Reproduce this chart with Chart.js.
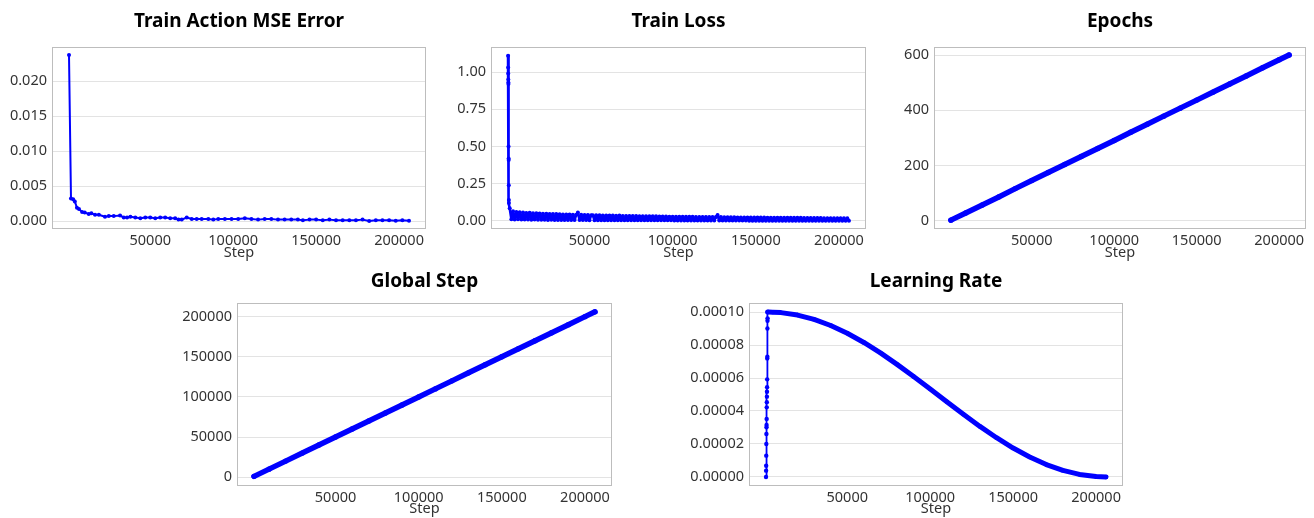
<!DOCTYPE html>
<html><head><meta charset="utf-8">
<script src="https://cdn.jsdelivr.net/npm/chart.js@4"></script>
<style>
html,body{margin:0;padding:0;background:#fff;}
#wrap{position:relative;width:1314px;height:518px;overflow:hidden;background:#fff;}
canvas{position:absolute;}
</style></head><body>
<div id="wrap">
<canvas id="c1" width="440" height="262" style="left:0px;top:0px"></canvas>
<canvas id="c2" width="440" height="262" style="left:440px;top:0px"></canvas>
<canvas id="c3" width="434" height="262" style="left:880px;top:0px"></canvas>
<canvas id="c4" width="460" height="256" style="left:160px;top:262px"></canvas>
<canvas id="c5" width="480" height="256" style="left:660px;top:262px"></canvas>
</div>
<script>
// ---------- data ----------
const xTickValues = [50000, 100000, 150000, 200000];

const mseTicks = [0, 0.005, 0.010, 0.015, 0.020];
const mseSteps = [1000, 2200, 3500, 4500, 5800, 7000, 8900, 10500, 12900, 14500,
  16700, 19000, 22700, 25000, 28000, 31800, 34000, 36000, 38000, 41000,
  44000, 47000, 50000, 53000, 56000, 59000, 62000, 65000, 67000, 69000,
  72000, 75000, 78000, 81000, 85000, 88000, 91000, 95000, 99000, 103000,
  107000, 111000, 115000, 119000, 123000, 127000, 131000, 135000, 139000, 142000,
  146000, 150000, 154000, 158000, 162000, 166000, 170000, 174000, 178000, 182000,
  186000, 190000, 194000, 198000, 202000, 206000];
const mseValues = [0.0237, 0.0032, 0.0031, 0.0028, 0.0019, 0.0017, 0.0013, 0.0012, 0.0010, 0.0011,
  0.0009, 0.0009, 0.0006, 0.0007, 0.0007, 0.0008, 0.0005, 0.0005, 0.0006, 0.0005,
  0.0004, 0.0005, 0.0005, 0.0004, 0.0005, 0.0005, 0.0004, 0.0004, 0.0002, 0.0002,
  0.0005, 0.0003, 0.0003, 0.0003, 0.0003, 0.0002, 0.0003, 0.0003, 0.0003, 0.0003,
  0.0004, 0.0003, 0.0002, 0.0003, 0.0003, 0.0002, 0.0002, 0.0002, 0.0002, 0.0001,
  0.0002, 0.0002, 0.0001, 0.0002, 0.0001, 0.0001, 0.0001, 0.0001, 0.0002, 0.0000,
  0.0001, 0.0001, 0.0001, 0.00005, 0.0001, 0.00005];

const lossTicks = [0, 0.25, 0.50, 0.75, 1.00];
const lossWarmSteps = [1000, 1050, 1100, 1150, 1200, 1250, 1300, 1350, 1400, 1450, 1500, 1550];
const lossWarmValues = [1.11, 1.03, 0.99, 0.95, 0.93, 0.92, 0.50, 0.42, 0.41, 0.24, 0.14, 0.12];
const lossSteps = [2000, 3000, 4000, 5000, 6000, 7000, 8000, 9000, 10000, 11000,
  12000, 13000, 14000, 15000, 16000, 17000, 18000, 19000, 20000, 21000,
  22000, 23000, 24000, 25000, 26000, 27000, 28000, 29000, 30000, 31000,
  32000, 33000, 34000, 35000, 36000, 37000, 38000, 39000, 40000, 41000,
  42000, 43000, 44000, 45000, 46000, 47000, 48000, 49000, 50000, 51000,
  52000, 53000, 54000, 55000, 56000, 57000, 58000, 59000, 60000, 61000,
  62000, 63000, 64000, 65000, 66000, 67000, 68000, 69000, 70000, 71000,
  72000, 73000, 74000, 75000, 76000, 77000, 78000, 79000, 80000, 81000,
  82000, 83000, 84000, 85000, 86000, 87000, 88000, 89000, 90000, 91000,
  92000, 93000, 94000, 95000, 96000, 97000, 98000, 99000, 100000, 101000,
  102000, 103000, 104000, 105000, 106000, 107000, 108000, 109000, 110000, 111000,
  112000, 113000, 114000, 115000, 116000, 117000, 118000, 119000, 120000, 121000,
  122000, 123000, 124000, 125000, 126000, 127000, 128000, 129000, 130000, 131000,
  132000, 133000, 134000, 135000, 136000, 137000, 138000, 139000, 140000, 141000,
  142000, 143000, 144000, 145000, 146000, 147000, 148000, 149000, 150000, 151000,
  152000, 153000, 154000, 155000, 156000, 157000, 158000, 159000, 160000, 161000,
  162000, 163000, 164000, 165000, 166000, 167000, 168000, 169000, 170000, 171000,
  172000, 173000, 174000, 175000, 176000, 177000, 178000, 179000, 180000, 181000,
  182000, 183000, 184000, 185000, 186000, 187000, 188000, 189000, 190000, 191000,
  192000, 193000, 194000, 195000, 196000, 197000, 198000, 199000, 200000, 201000,
  202000, 203000, 204000, 205000, 206000];
const lossValues = [0.085, 0.012, 0.065, 0.010, 0.060, 0.012, 0.058, 0.009, 0.056, 0.010,
  0.054, 0.009, 0.055, 0.008, 0.052, 0.009, 0.051, 0.008, 0.050, 0.008,
  0.049, 0.008, 0.048, 0.007, 0.047, 0.008, 0.046, 0.007, 0.046, 0.007,
  0.045, 0.007, 0.044, 0.006, 0.044, 0.007, 0.043, 0.006, 0.042, 0.006,
  0.042, 0.056, 0.006, 0.041, 0.006, 0.040, 0.006, 0.040, 0.005, 0.039,
  0.038, 0.005, 0.039, 0.005, 0.038, 0.005, 0.037, 0.005, 0.037, 0.005,
  0.036, 0.005, 0.036, 0.005, 0.035, 0.005, 0.036, 0.004, 0.034, 0.004,
  0.034, 0.004, 0.034, 0.004, 0.033, 0.004, 0.033, 0.004, 0.032, 0.004,
  0.032, 0.004, 0.032, 0.004, 0.031, 0.004, 0.031, 0.004, 0.031, 0.004,
  0.030, 0.004, 0.030, 0.004, 0.030, 0.004, 0.029, 0.004, 0.029, 0.003,
  0.029, 0.003, 0.029, 0.003, 0.028, 0.003, 0.028, 0.003, 0.028, 0.003,
  0.028, 0.003, 0.027, 0.003, 0.027, 0.003, 0.027, 0.003, 0.027, 0.003,
  0.026, 0.003, 0.026, 0.003, 0.026, 0.040, 0.003, 0.026, 0.003, 0.025,
  0.003, 0.025, 0.003, 0.025, 0.003, 0.025, 0.003, 0.024, 0.003, 0.024,
  0.003, 0.024, 0.003, 0.024, 0.002, 0.023, 0.002, 0.023, 0.002, 0.023,
  0.002, 0.023, 0.002, 0.023, 0.002, 0.022, 0.002, 0.022, 0.002, 0.022,
  0.002, 0.022, 0.002, 0.022, 0.002, 0.021, 0.002, 0.021, 0.002, 0.021,
  0.002, 0.021, 0.002, 0.021, 0.002, 0.021, 0.002, 0.020, 0.002, 0.020,
  0.002, 0.020, 0.002, 0.020, 0.002, 0.020, 0.002, 0.020, 0.002, 0.019,
  0.002, 0.019, 0.002, 0.019, 0.002, 0.019, 0.002, 0.019, 0.002, 0.019,
  0.002, 0.019, 0.002, 0.018, 0.002];

const lineSteps = [1000, 10000, 20000, 30000, 40000, 50000, 60000, 70000, 80000, 90000,
  100000, 110000, 120000, 130000, 140000, 150000, 160000, 170000, 180000, 190000,
  200000, 206000];

const epochTicks = [0, 200, 400, 600];
const epochValues = [3, 29, 58, 87, 117, 146, 175, 204, 233, 262,
  291, 321, 350, 379, 408, 437, 466, 495, 524, 554,
  583, 600];

const globalTicks = [0, 50000, 100000, 150000, 200000];
const globalValues = [1000, 10000, 20000, 30000, 40000, 50000, 60000, 70000, 80000, 90000,
  100000, 110000, 120000, 130000, 140000, 150000, 160000, 170000, 180000, 190000,
  200000, 206000];

const lrTicks = [0, 0.00002, 0.00004, 0.00006, 0.00008, 0.00010];
const lrWarmSteps = [1000, 1050, 1100, 1150, 1200, 1250, 1300, 1350, 1400, 1450,
  1500, 1550, 1600, 1650, 1700, 1750, 1800, 1850, 1900, 1950, 2000];
const lrWarmValues = [0, 0.0000038, 0.0000068, 0.0000129, 0.000020, 0.000026, 0.0000301, 0.0000315, 0.0000352, 0.0000422,
  0.0000453, 0.0000487, 0.0000517, 0.0000544, 0.0000592, 0.0000719, 0.0000729, 0.000090, 0.0000947, 0.0000962, 0.0001];
const lrSteps = [2500, 5000, 10000, 20000, 30000, 40000, 50000, 60000, 70000, 80000,
  90000, 100000, 110000, 120000, 130000, 140000, 150000, 160000, 170000, 180000,
  190000, 200000, 206000];
const lrValues = [0.0001, 0.00009996, 0.00009967, 0.00009819, 0.00009556, 0.00009186, 0.00008715, 0.00008156, 0.00007525, 0.00006828,
  0.00006092, 0.00005328, 0.00004557, 0.00003797, 0.00003064, 0.0000238, 0.00001753, 0.00001213, 0.00000752, 0.00000397,
  0.00000152, 0.00000021, 0];

// ---------- rendering ----------
const FONT = "'Noto Sans', 'DejaVu Sans', sans-serif";
Chart.defaults.font.family = FONT;
const BLUE = '#0000ff';

const pts = (xs, ys) => xs.map((x, i) => ({x: x, y: ys[i]}));

const framePlugin = {
  id: 'frame',
  afterDraw(chart) {
    const a = chart.chartArea, ctx = chart.ctx;
    ctx.save();
    ctx.strokeStyle = '#bdbdbd';
    ctx.lineWidth = 1;
    ctx.strokeRect(Math.round(a.left) + 0.5, Math.round(a.top) + 0.5,
      Math.round(a.right - a.left) - 1, Math.round(a.bottom - a.top) - 1);
    ctx.restore();
  }
};

function makeChart(id, o) {
  return new Chart(document.getElementById(id), {
    type: 'line',
    data: {datasets: [{
      data: o.data,
      borderColor: BLUE,
      backgroundColor: BLUE,
      borderWidth: o.lineWidth,
      pointRadius: o.pointRadius,
      pointBorderWidth: 0,
      pointBackgroundColor: BLUE,
      borderCapStyle: 'round',
      borderJoinStyle: 'round',
      tension: 0,
      segment: o.segment || {}
    }]},
    options: {
      responsive: false, animation: false, devicePixelRatio: 1,
      layout: {padding: {left: 0, right: o.padR, top: 0, bottom: 0}},
      plugins: {
        legend: {display: false}, tooltip: {enabled: false},
        title: {display: true, text: o.title, fullSize: false, color: '#000',
          font: {size: 19, weight: 'bold', family: FONT, lineHeight: 1.2},
          padding: {top: o.tTop, bottom: o.tBot}}
      },
      scales: {
        x: {type: 'linear', min: -9250, max: 216250,
          grid: {display: false, drawTicks: false}, border: {display: false},
          afterBuildTicks: s => { s.ticks = xTickValues.map(v => ({value: v})); },
          afterFit: s => { s.height = o.xH; },
          ticks: {padding: 3, color: '#333', font: {size: 14.5}, maxRotation: 0, autoSkip: false,
            callback: v => String(v)},
          title: {display: true, text: 'Step', color: '#333', font: {size: 14.5, lineHeight: 1.2},
            padding: {top: 0, bottom: 0}}},
        y: {type: 'linear', min: o.yMin, max: o.yMax,
          grid: {color: '#e3e3e3', lineWidth: 1, drawTicks: false}, border: {display: false},
          afterBuildTicks: s => { s.ticks = o.yTicks.map(v => ({value: v})); },
          afterFit: s => { s.width = o.yW; },
          ticks: {padding: 5, color: '#333', font: {size: 14.5}, autoSkip: false,
            callback: o.fmt}}
      }
    },
    plugins: [framePlugin]
  });
}

makeChart('c1', {title: 'Train Action MSE Error', data: pts(mseSteps, mseValues),
  lineWidth: 2, pointRadius: 2, yMin: -0.00114, yMax: 0.02486, yTicks: mseTicks,
  fmt: v => v.toFixed(3), yW: 52, padR: 14, tTop: 10, tBot: 14.2, xH: 33});

makeChart('c2', {title: 'Train Loss', data: pts(lossWarmSteps.concat(lossSteps), lossWarmValues.concat(lossValues)),
  lineWidth: 2.6, pointRadius: 2, yMin: -0.054, yMax: 1.168, yTicks: lossTicks,
  fmt: v => v.toFixed(2), yW: 51, padR: 14, tTop: 10, tBot: 14.2, xH: 33});

makeChart('c3', {title: 'Epochs', data: pts(lineSteps, epochValues),
  lineWidth: 5.5, pointRadius: 2.7, yMin: -29, yMax: 629, yTicks: epochTicks,
  fmt: v => String(v), yW: 54, padR: 8, tTop: 10, tBot: 14.2, xH: 33});

makeChart('c4', {title: 'Global Step', data: pts(lineSteps, globalValues),
  lineWidth: 5.5, pointRadius: 2.7, yMin: -11000, yMax: 217000, yTicks: globalTicks,
  fmt: v => String(v), yW: 77, padR: 8, tTop: 8.3, tBot: 9.9, xH: 32});

const lrWarmCount = lrWarmSteps.length;
makeChart('c5', {title: 'Learning Rate', data: pts(lrWarmSteps.concat(lrSteps), lrWarmValues.concat(lrValues)),
  lineWidth: 1.8, pointRadius: 2.2, yMin: -0.0000055, yMax: 0.0001055, yTicks: lrTicks,
  fmt: v => v.toFixed(5), yW: 89, padR: 17, tTop: 8.3, tBot: 9.9, xH: 32,
  segment: {borderWidth: ctx => ctx.p0DataIndex >= lrWarmCount - 1 ? 5 : 1.8}});
</script>
</body></html>
